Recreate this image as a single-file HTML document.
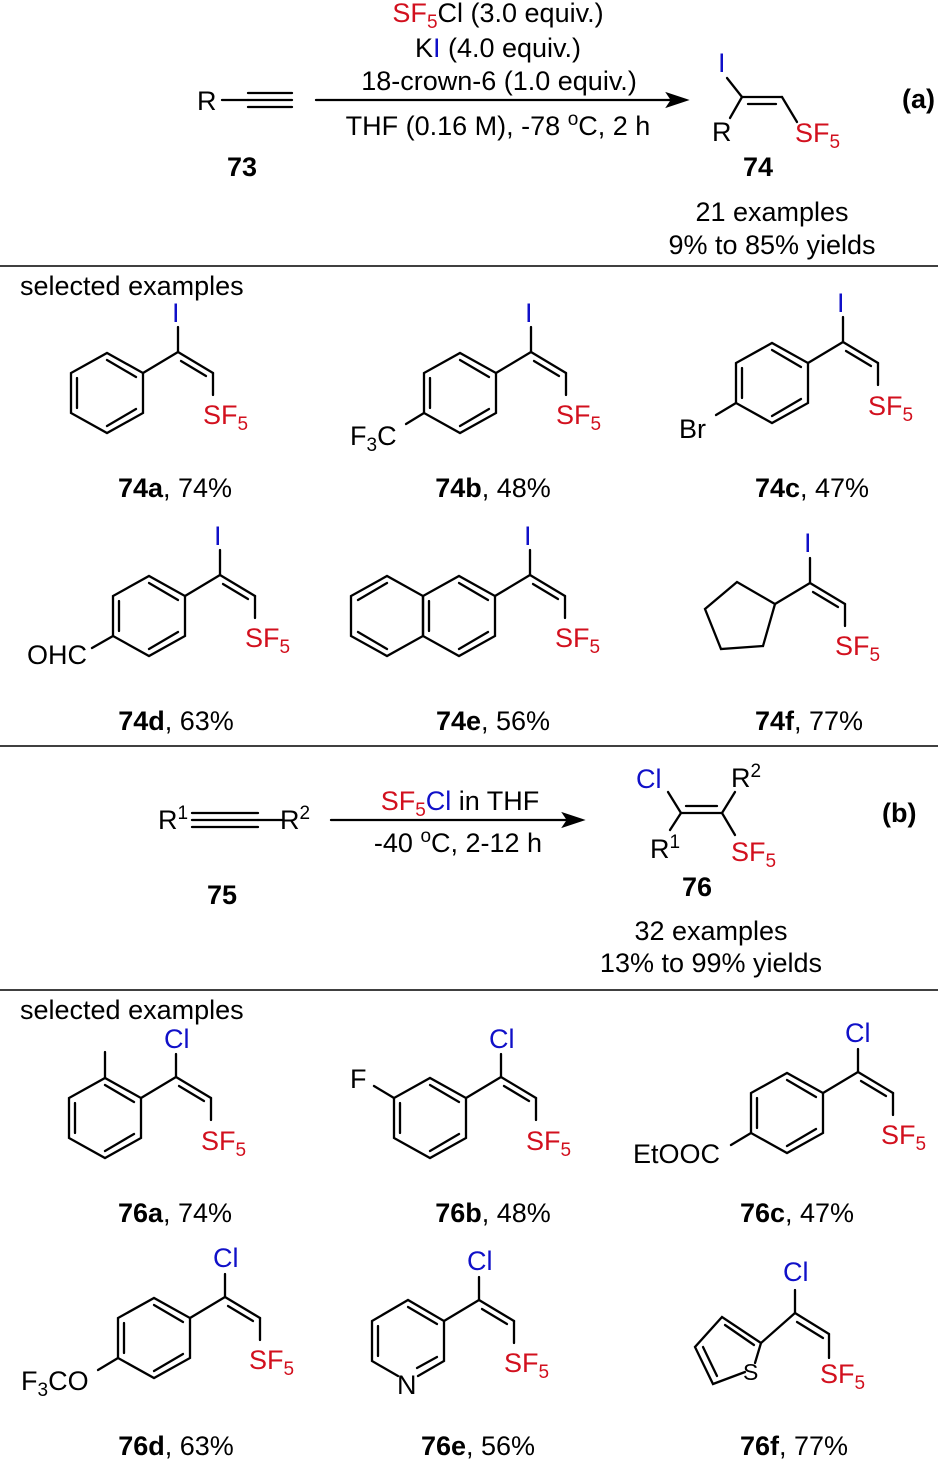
<!DOCTYPE html>
<html><head><meta charset="utf-8"><style>
html,body{margin:0;padding:0;background:#fff}
svg{display:block}
text{font-family:"Liberation Sans",Arial,sans-serif;font-size:27px;fill:#000}
.b{font-weight:bold}
.r{fill:#d2101e}
.bl{fill:#1010c8}
.s{font-size:19px}
line,polyline,polygon{stroke:#000;stroke-width:2.3;fill:none;stroke-linecap:round}
</style></head><body>
<svg width="938" height="1460" viewBox="0 0 938 1460" xmlns="http://www.w3.org/2000/svg">
<defs>
<g id="vi">
<line x1="0" y1="0" x2="35" y2="-21"/><line x1="35" y1="-21" x2="35" y2="-46"/>
<line x1="35" y1="-21" x2="70" y2="0"/><line x1="38" y1="-12" x2="63" y2="3"/>
<line x1="70" y1="0" x2="70" y2="22"/>
</g>
<g id="vc">
<line x1="0" y1="0" x2="35" y2="-21"/><line x1="35" y1="-21" x2="35" y2="-44"/>
<line x1="35" y1="-21" x2="70" y2="0"/><line x1="38" y1="-12" x2="63" y2="3"/>
<line x1="70" y1="0" x2="70" y2="22"/>
</g>
<g id="bz">
<polygon points="0,0 0,40 -36,60 -72,40 -72,0 -36,-20"/>
<line x1="-66" y1="5" x2="-66" y2="35"/><line x1="-36" y1="-13" x2="-7" y2="4"/><line x1="-36" y1="53" x2="-7" y2="36"/>
</g>
</defs>

<!-- scheme a -->
<text x="197" y="110">R</text>
<line x1="222" y1="100" x2="248" y2="100"/>
<line x1="248" y1="93" x2="292" y2="93"/><line x1="248" y1="100" x2="292" y2="100"/><line x1="248" y1="107" x2="292" y2="107"/>
<line x1="316" y1="100" x2="672" y2="100"/>
<polygon points="686,100 668,94 672,100 668,106" style="fill:#000"/>
<text x="498" y="22" text-anchor="middle"><tspan class="r">SF</tspan><tspan class="r s" dy="6">5</tspan><tspan dy="-6">Cl (3.0 equiv.)</tspan></text>
<text x="498" y="57" text-anchor="middle">K<tspan class="bl">I</tspan> (4.0 equiv.)</text>
<text x="499" y="90" text-anchor="middle">18-crown-6 (1.0 equiv.)</text>
<text x="498" y="135" text-anchor="middle">THF (0.16 M), -78 <tspan class="s" dy="-10">o</tspan><tspan dy="10">C, 2 h</tspan></text>
<text x="242" y="176" class="b" text-anchor="middle">73</text>
<text x="718" y="72" class="bl">I</text>
<line x1="727" y1="78" x2="742" y2="97"/>
<line x1="742" y1="97" x2="782" y2="97"/><line x1="748" y1="104" x2="776" y2="104"/>
<line x1="742" y1="97" x2="730" y2="118"/>
<line x1="782" y1="97" x2="797" y2="122"/>
<text x="712" y="141">R</text>
<text x="795" y="142" class="r">SF<tspan class="s" dy="6">5</tspan></text>
<text x="758" y="176" class="b" text-anchor="middle">74</text>
<text x="902" y="108" class="b">(a)</text>
<text x="772" y="221" text-anchor="middle">21 examples</text>
<text x="772" y="254" text-anchor="middle">9% to 85% yields</text>
<line x1="0" y1="266" x2="938" y2="266" style="stroke-width:1.6"/>

<text x="20" y="295">selected examples</text>
<!-- 74a -->
<use href="#bz" x="143" y="373"/><use href="#vi" x="143" y="373"/>
<text x="172" y="322" class="bl">I</text><text x="203" y="424" class="r">SF<tspan class="s" dy="6">5</tspan></text>
<text x="175" y="497" text-anchor="middle"><tspan class="b">74a</tspan>, 74%</text>
<!-- 74b -->
<use href="#bz" x="496" y="373"/><use href="#vi" x="496" y="373"/>
<line x1="424" y1="413" x2="406" y2="424"/>
<text x="350" y="445">F<tspan class="s" dy="6">3</tspan><tspan dy="-6">C</tspan></text>
<text x="525" y="322" class="bl">I</text><text x="556" y="424" class="r">SF<tspan class="s" dy="6">5</tspan></text>
<text x="493" y="497" text-anchor="middle"><tspan class="b">74b</tspan>, 48%</text>
<!-- 74c -->
<use href="#bz" x="808" y="363"/><use href="#vi" x="808" y="363"/>
<line x1="736" y1="403" x2="716" y2="415"/>
<text x="679" y="438">Br</text>
<text x="837" y="312" class="bl">I</text><text x="868" y="415" class="r">SF<tspan class="s" dy="6">5</tspan></text>
<text x="812" y="497" text-anchor="middle"><tspan class="b">74c</tspan>, 47%</text>
<!-- 74d -->
<use href="#bz" x="185" y="596"/><use href="#vi" x="185" y="596"/>
<line x1="113" y1="636" x2="92" y2="648"/>
<text x="27" y="664">OHC</text>
<text x="214" y="545" class="bl">I</text><text x="245" y="647" class="r">SF<tspan class="s" dy="6">5</tspan></text>
<text x="176" y="730" text-anchor="middle"><tspan class="b">74d</tspan>, 63%</text>
<!-- 74e -->
<use href="#bz" x="495" y="596"/><use href="#vi" x="495" y="596"/>
<polygon points="423,596 423,636 387,656 351,636 351,596 387,576"/>
<line x1="387" y1="583" x2="358" y2="600"/><line x1="387" y1="649" x2="358" y2="632"/>
<text x="524" y="545" class="bl">I</text><text x="555" y="647" class="r">SF<tspan class="s" dy="6">5</tspan></text>
<text x="493" y="730" text-anchor="middle"><tspan class="b">74e</tspan>, 56%</text>
<!-- 74f -->
<polygon points="775,604 763,646 721,649 705,609 737,582"/>
<use href="#vi" x="775" y="604"/>
<text x="804" y="552" class="bl">I</text><text x="835" y="655" class="r">SF<tspan class="s" dy="6">5</tspan></text>
<text x="809" y="730" text-anchor="middle"><tspan class="b">74f</tspan>, 77%</text>
<line x1="0" y1="746" x2="938" y2="746" style="stroke-width:1.6"/>

<!-- scheme b -->
<text x="158" y="829">R<tspan class="s" dy="-10">1</tspan></text>
<line x1="192" y1="813" x2="258" y2="813"/><line x1="192" y1="820" x2="258" y2="820"/><line x1="192" y1="827" x2="258" y2="827"/>
<line x1="258" y1="820" x2="282" y2="820"/>
<text x="280" y="829">R<tspan class="s" dy="-10">2</tspan></text>
<line x1="331" y1="820" x2="568" y2="820"/>
<polygon points="582,820 564,814 568,820 564,826" style="fill:#000"/>
<text x="460" y="810" text-anchor="middle"><tspan class="r">SF</tspan><tspan class="r s" dy="6">5</tspan><tspan class="bl" dy="-6">Cl</tspan> in THF</text>
<text x="458" y="852" text-anchor="middle">-40 <tspan class="s" dy="-10">o</tspan><tspan dy="10">C, 2-12 h</tspan></text>
<text x="222" y="904" class="b" text-anchor="middle">75</text>
<text x="636" y="788" class="bl">Cl</text>
<text x="731" y="787">R<tspan class="s" dy="-10">2</tspan></text>
<text x="650" y="858">R<tspan class="s" dy="-10">1</tspan></text>
<text x="731" y="861" class="r">SF<tspan class="s" dy="6">5</tspan></text>
<line x1="668" y1="792" x2="681" y2="813"/><line x1="681" y1="813" x2="722" y2="813"/><line x1="686" y1="806" x2="717" y2="806"/>
<line x1="722" y1="813" x2="735" y2="792"/><line x1="681" y1="813" x2="670" y2="830"/><line x1="722" y1="813" x2="735" y2="835"/>
<text x="697" y="896" class="b" text-anchor="middle">76</text>
<text x="882" y="822" class="b">(b)</text>
<text x="711" y="940" text-anchor="middle">32 examples</text>
<text x="711" y="972" text-anchor="middle">13% to 99% yields</text>
<line x1="0" y1="990" x2="938" y2="990" style="stroke-width:1.6"/>

<text x="20" y="1019">selected examples</text>
<!-- 76a -->
<use href="#bz" x="141" y="1098"/><use href="#vc" x="141" y="1098"/>
<line x1="105" y1="1078" x2="105" y2="1052"/>
<text x="164" y="1048" class="bl">Cl</text><text x="201" y="1150" class="r">SF<tspan class="s" dy="6">5</tspan></text>
<text x="175" y="1222" text-anchor="middle"><tspan class="b">76a</tspan>, 74%</text>
<!-- 76b -->
<use href="#bz" x="466" y="1098"/><use href="#vc" x="466" y="1098"/>
<line x1="394" y1="1098" x2="374" y2="1086"/>
<text x="350" y="1088">F</text>
<text x="489" y="1048" class="bl">Cl</text><text x="526" y="1150" class="r">SF<tspan class="s" dy="6">5</tspan></text>
<text x="493" y="1222" text-anchor="middle"><tspan class="b">76b</tspan>, 48%</text>
<!-- 76c -->
<use href="#bz" x="823" y="1093"/><use href="#vc" x="823" y="1093"/>
<line x1="751" y1="1133" x2="731" y2="1145"/>
<text x="633" y="1163">EtOOC</text>
<text x="845" y="1042" class="bl">Cl</text><text x="881" y="1144" class="r">SF<tspan class="s" dy="6">5</tspan></text>
<text x="797" y="1222" text-anchor="middle"><tspan class="b">76c</tspan>, 47%</text>
<!-- 76d -->
<use href="#bz" x="190" y="1318"/><use href="#vc" x="190" y="1318"/>
<line x1="118" y1="1358" x2="98" y2="1370"/>
<text x="21" y="1390">F<tspan class="s" dy="6">3</tspan><tspan dy="-6">CO</tspan></text>
<text x="213" y="1267" class="bl">Cl</text><text x="249" y="1369" class="r">SF<tspan class="s" dy="6">5</tspan></text>
<text x="176" y="1455" text-anchor="middle"><tspan class="b">76d</tspan>, 63%</text>
<!-- 76e -->
<polyline points="398,1376 372,1361 372,1321 408,1300 444,1321 444,1361 418,1376"/>
<line x1="378" y1="1326" x2="378" y2="1356"/><line x1="408" y1="1307" x2="437" y2="1324"/><line x1="417" y1="1368" x2="437" y2="1357"/>
<use href="#vc" x="444" y="1321"/>
<text x="397" y="1394">N</text>
<text x="467" y="1270" class="bl">Cl</text><text x="504" y="1372" class="r">SF<tspan class="s" dy="6">5</tspan></text>
<text x="478" y="1455" text-anchor="middle"><tspan class="b">76e</tspan>, 56%</text>
<!-- 76f -->
<polyline points="745,1372 713,1384 695,1347 722,1317 761,1343 755,1363"/>
<line x1="703" y1="1347" x2="717" y2="1376"/><line x1="725" y1="1325" x2="754" y2="1345"/>
<line x1="761" y1="1343" x2="795" y2="1313"/><line x1="795" y1="1313" x2="795" y2="1290"/>
<line x1="795" y1="1313" x2="829" y2="1334"/><line x1="797" y1="1322" x2="823" y2="1338"/>
<line x1="829" y1="1334" x2="829" y2="1358"/>
<text x="743" y="1380" style="font-size:23px">S</text>
<text x="783" y="1281" class="bl">Cl</text><text x="820" y="1383" class="r">SF<tspan class="s" dy="6">5</tspan></text>
<text x="794" y="1455" text-anchor="middle"><tspan class="b">76f</tspan>, 77%</text>
</svg>
</body></html>
